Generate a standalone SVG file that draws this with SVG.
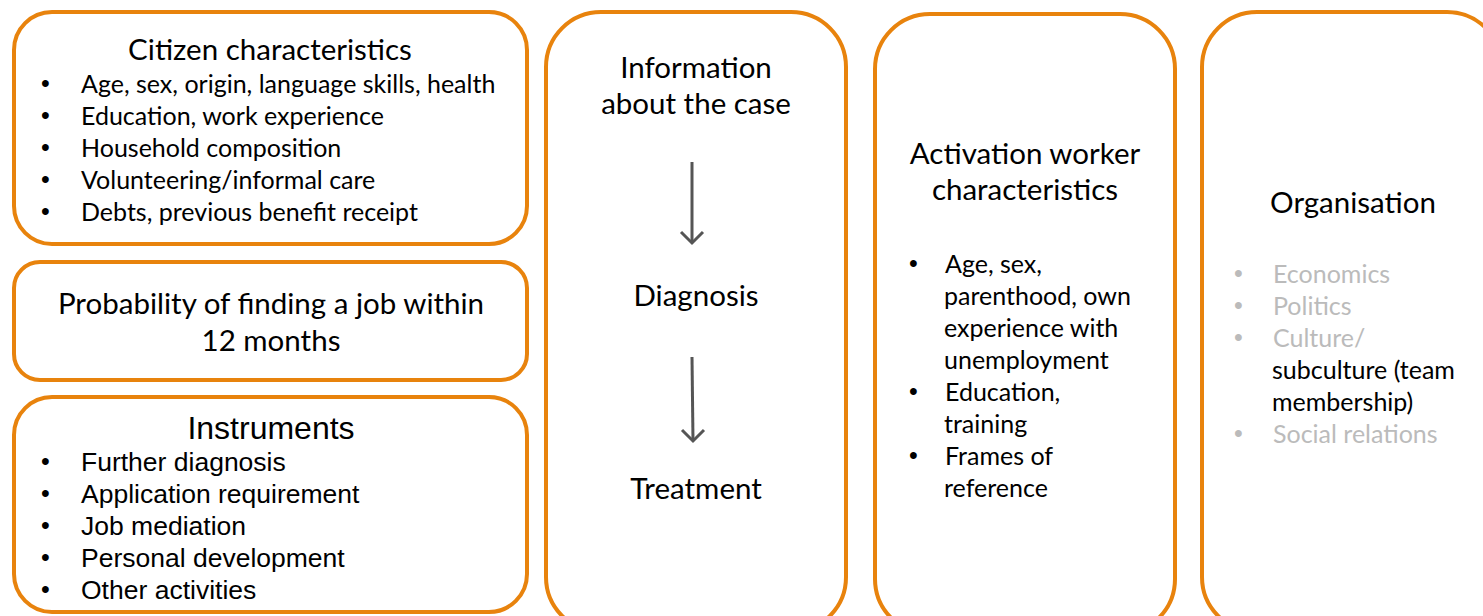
<svg xmlns="http://www.w3.org/2000/svg" width="1483" height="616" viewBox="0 0 1483 616">
<style>
.box{fill:#fff;stroke:#E8830D;stroke-width:4}
.t{font-family:Lato,"Open Sans",sans-serif;font-size:25px;fill:#000}
.h{font-family:Lato,"Open Sans",sans-serif;font-size:29.5px;fill:#000}
.a{font-family:"Liberation Sans",Arial,sans-serif;font-size:26.5px;fill:#000}
.ah{font-family:"Liberation Sans",Arial,sans-serif;font-size:32px;fill:#000}
.b{font-family:"Liberation Sans",Arial,sans-serif;font-size:25px}
.g{fill:#BBBBBB}
.c{text-anchor:middle}
.con{stroke:#555;stroke-width:3;fill:none}
</style>
<rect width="1483" height="616" fill="#fff"/>
<g id="citizen">
<rect class="box" x="14" y="12" width="513" height="232" rx="38"/>
<text class="h c" x="270" y="60">Citizen characteristics</text>
<g class="t">
<text class="b" x="41" y="92">•</text><text x="81" y="93">Age, sex, origin, language skills, health</text>
<text class="b" x="41" y="124">•</text><text x="81" y="125">Education, work experience</text>
<text class="b" x="41" y="156">•</text><text x="81" y="157">Household composition</text>
<text class="b" x="41" y="188">•</text><text x="81" y="189">Volunteering/informal care</text>
<text class="b" x="41" y="220">•</text><text x="81" y="221">Debts, previous benefit receipt</text>
</g>
</g>
<g id="probability">
<rect class="box" x="14" y="262" width="513" height="118" rx="26"/>
<text class="h c" x="271" y="314">Probability of finding a job within</text>
<text class="h c" x="271" y="351">12 months</text>
</g>
<g id="instruments">
<rect class="box" x="14" y="397" width="513" height="215" rx="38"/>
<text class="ah c" x="271" y="439">Instruments</text>
<g class="a">
<text class="b" x="41" y="470">•</text><text x="81" y="471">Further diagnosis</text>
<text class="b" x="41" y="502">•</text><text x="81" y="503">Application requirement</text>
<text class="b" x="41" y="534">•</text><text x="81" y="535">Job mediation</text>
<text class="b" x="41" y="566">•</text><text x="81" y="567">Personal development</text>
<text class="b" x="41" y="598">•</text><text x="81" y="599">Other activities</text>
</g>
</g>
<g id="process">
<rect class="box" x="546" y="12" width="300" height="620" rx="55"/>
<text class="h c" x="696" y="78">Information</text>
<text class="h c" x="696" y="114">about the case</text>
<text class="h c" x="696" y="306">Diagnosis</text>
<text class="h c" x="696" y="499">Treatment</text>
</g>
<g id="activation">
<rect class="box" x="875" y="14" width="300" height="620" rx="55"/>
<text class="h c" x="1025" y="164">Activation worker</text>
<text class="h c" x="1025" y="200">characteristics</text>
<g class="t">
<text class="b" x="909" y="272">•</text><text x="945" y="273">Age, sex,</text>
<text x="944" y="305">parenthood, own</text>
<text x="944" y="337">experience with</text>
<text x="944" y="369">unemployment</text>
<text class="b" x="909" y="400">•</text><text x="945" y="401">Education,</text>
<text x="944" y="433">training</text>
<text class="b" x="909" y="464">•</text><text x="945" y="465">Frames of</text>
<text x="944" y="497">reference</text>
</g>
</g>
<g id="organisation">
<rect class="box" x="1202" y="12" width="300" height="620" rx="55"/>
<text class="h c" x="1353" y="213">Organisation</text>
<g class="t">
<text class="b g" x="1234" y="282">•</text><text class="g" x="1273" y="283">Economics</text>
<text class="b g" x="1234" y="314">•</text><text class="g" x="1273" y="315">Politics</text>
<text class="b g" x="1234" y="346">•</text><text class="g" x="1273" y="347">Culture/</text>
<text x="1272" y="379">subculture (team</text>
<text x="1272" y="411">membership)</text>
<text class="b g" x="1234" y="442">•</text><text class="g" x="1273" y="443">Social relations</text>
</g>
</g>
<g id="connectors">
<path class="con" d="M692 162 L692 243"/>
<path class="con" d="M681 232 L692 243 L703 232"/>
<path class="con" d="M692 357 L693 441"/>
<path class="con" d="M682 430 L693 441 L704 430"/>
</g>
</svg>
